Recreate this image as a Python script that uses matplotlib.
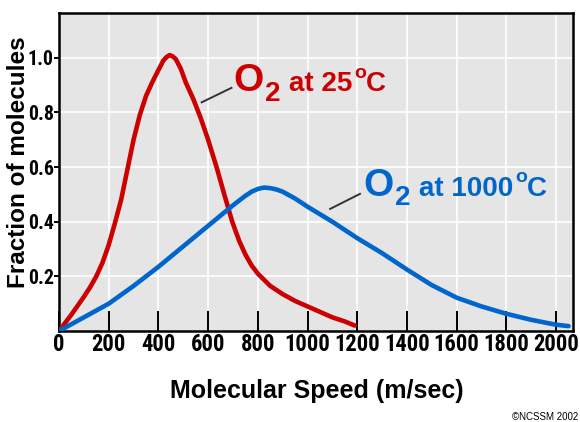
import matplotlib
matplotlib.use("Agg")
import matplotlib.pyplot as plt
from matplotlib import font_manager
from matplotlib.font_manager import FontProperties
from matplotlib.textpath import TextPath

# Maxwell-Boltzmann curves
speed_25 = [0, 50, 100, 125, 150, 175, 200, 225, 250, 275, 300, 325, 350,
            375, 400, 420, 433, 445, 458, 470, 490, 510, 540, 570, 600, 634,
            665, 697, 725, 750, 775, 800, 850, 900, 950, 1000, 1050, 1100,
            1150, 1190]
frac_25 = [0.00, 0.06, 0.125, 0.16, 0.20, 0.25, 0.315, 0.395, 0.48, 0.59,
           0.70, 0.79, 0.86, 0.91, 0.955, 0.99, 1.003, 1.01, 1.005, 0.995,
           0.96, 0.91, 0.85, 0.78, 0.70, 0.60, 0.50, 0.40, 0.33, 0.28, 0.24,
           0.21, 0.165, 0.135, 0.11, 0.09, 0.07, 0.05, 0.035, 0.02]

speed_1000 = [0, 100, 200, 300, 400, 500, 600, 700, 750, 775, 800, 825, 850,
              875, 900, 950, 1000, 1100, 1200, 1300, 1400, 1500, 1600, 1700,
              1800, 1900, 2000, 2050]
frac_1000 = [0.00, 0.05, 0.10, 0.165, 0.235, 0.31, 0.385, 0.46, 0.495, 0.51,
             0.52, 0.525, 0.523, 0.518, 0.51, 0.485, 0.455, 0.40, 0.34,
             0.285, 0.225, 0.168, 0.122, 0.09, 0.063, 0.041, 0.023, 0.018]

x_ticks = list(range(0, 2001, 200))
y_ticks = [0.2, 0.4, 0.6, 0.8, 1.0]
y_tick_labels = ["0.2", "0.4", "0.6", "0.8", "1.0"]

RED = "#cc0000"
BLUE = "#0066cc"

plt.rcParams["font.family"] = ["Liberation Sans", "DejaVu Sans"]


def condensed_bold_font():
    """Look for a narrow/condensed bold sans; None if none is installed."""
    prefs = ["liberation sans narrow", "roboto condensed", "open sans condensed",
             "noto sans condensed", "noto sans", "dejavu sans", ""]
    found = []
    for f in font_manager.fontManager.ttflist:
        nm = f.name.lower()
        st = str(f.stretch).lower()
        if not ("narrow" in nm or "condensed" in nm or "condensed" in st):
            continue
        w = f.weight if isinstance(f.weight, int) else (700 if "bold" in str(f.weight) else 400)
        if w < 600 or w > 750 or f.style != "normal":
            continue
        if "semi" in st or "semi" in nm:
            continue
        found.append(f)
    for p in prefs:
        for f in found:
            if p in f.name.lower():
                return f.fname
    return None


def fitted_font(sample, width_px, max_px=23.6):
    """Condensed bold font sized so `sample` is about width_px wide."""
    path = condensed_bold_font()
    if path:
        fp = FontProperties(fname=path)
    else:
        fp = FontProperties(family="Liberation Sans", weight="bold")
    w1 = TextPath((0, 0), sample, size=1, prop=fp).get_extents().width
    fp.set_size(min(max_px, width_px / w1) * 0.72)
    return fp


xtick_fp = fitted_font("2000", 44.0)
ytick_fp = fitted_font("0.8", 24.0)

fig = plt.figure(figsize=(5.8, 4.22), dpi=100)
ax = fig.add_axes([0.1017, 0.2156, 0.8862, 0.7536])
ax.set_facecolor("#e5e5e5")

ax.plot(speed_25, frac_25, color=RED, lw=3.3, solid_capstyle="round",
        solid_joinstyle="round", zorder=3)
ax.plot(speed_1000, frac_1000, color=BLUE, lw=3.3, solid_capstyle="round",
        solid_joinstyle="round", zorder=4)

ax.set_xlim(0, 2068)
ax.set_ylim(0, 1.164)
ax.set_xticks(x_ticks)
ax.set_yticks(y_ticks)
ax.set_yticklabels(y_tick_labels)
ax.grid(True, color="white", lw=1.2)
ax.set_axisbelow(True)

ax.tick_params(axis="x", direction="in", length=14.4, width=1.4, pad=1.5)
ax.tick_params(axis="y", direction="out", length=3.6, width=1.4, pad=0.2)
for lab in ax.get_xticklabels():
    lab.set_fontproperties(xtick_fp)
for lab in ax.get_yticklabels():
    lab.set_fontproperties(ytick_fp)

for side in ["left", "bottom", "top", "right"]:
    ax.spines[side].set_linewidth(1.8)
    ax.spines[side].set_color("black")

ax.set_xlabel("Molecular Speed (m/sec)", fontsize=18, fontweight="bold")
ax.xaxis.set_label_coords(0.502, -0.151)
ax.set_ylabel("Fraction of molecules", fontsize=17.5, fontweight="bold")
ax.yaxis.set_label_coords(-0.056, 0.53)


def curve_label(x, y, color, pieces):
    """Big O, subscript 2, 'at T', superscript o, C - chained left to right."""
    first, size = pieces[0][0], pieces[0][1]
    prev = ax.text(x, y, first, fontsize=size, fontweight="bold", color=color,
                   va="baseline", ha="left", zorder=5)
    for text, size, gap, dy in pieces[1:]:
        prev = ax.annotate(text, xy=(1, y), xycoords=(prev, "data"),
                           xytext=(gap, dy), textcoords="offset points",
                           fontsize=size, fontweight="bold", color=color,
                           va="baseline", ha="left", zorder=5)


curve_label(700, 0.877, RED, [("O", 28),
                              ("2", 20, 1.5, -6.7),
                              ("at 25", 20, 6.0, 0),
                              ("o", 14, 1.0, 9.9),
                              ("C", 20, 0.0, 0)])
curve_label(1223, 0.496, BLUE, [("O", 28),
                                ("2", 20, 1.5, -6.5),
                                ("at 1000", 20, 6.0, 0),
                                ("o", 14, 1.0, 9.5),
                                ("C", 20, 0.0, 0)])

# leader lines from labels to curves
ax.plot([574, 694], [0.837, 0.890], color="#333333", lw=1.4, zorder=5)
ax.plot([1091, 1211], [0.447, 0.502], color="#333333", lw=1.4, zorder=5)

fig.text(0.9966, 0.012, "\u00a9NCSSM 2002", fontsize=7, ha="right",
         va="center")

fig.savefig("out.png", dpi=100)
